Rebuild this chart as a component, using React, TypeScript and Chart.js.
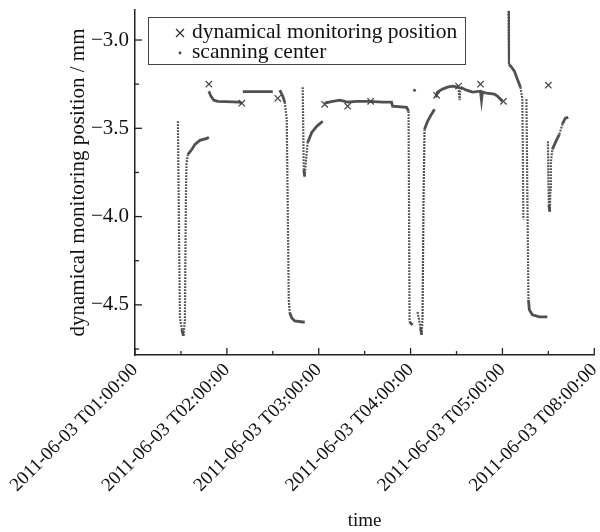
import React, { useEffect, useRef } from "react";
import Chart from "chart.js/auto";

// ---- axis ticks ----
const xTickHours = [1, 2, 3, 4, 5, 6];
const xTickLabels = [
  "2011-06-03 T01:00:00",
  "2011-06-03 T02:00:00",
  "2011-06-03 T03:00:00",
  "2011-06-03 T04:00:00",
  "2011-06-03 T05:00:00",
  "2011-06-03 T08:00:00",
];
const xMinorHours = [1.5, 2.5, 3.5, 4.5, 5.5];
const yTickValues = [-3.0, -3.5, -4.0, -4.5];
const yTickLabels = ["\u22123.0", "\u22123.5", "\u22124.0", "\u22124.5"];
const yMinorValues = [-3.25, -3.75, -4.25, -4.75];

// ---- scanning center, segments of [hour, mm] ----
const scanA = [
  [1.467, -3.46], [1.489, -4.574], [1.511, -4.642], [1.527, -4.676], [1.543, -4.585],
  [1.554, -3.903], [1.56, -3.705], [1.576, -3.648], [1.62, -3.619], [1.652, -3.591],
  [1.707, -3.568], [1.783, -3.557], [1.804, -3.551],
];
const scanB = [
  [1.804, -3.29], [1.826, -3.318], [1.859, -3.341], [1.902, -3.347], [2.141, -3.352], [2.163, -3.358],
];
const scanC = [[2.174, -3.292], [2.337, -3.292], [2.5, -3.292]];
const scanD = [
  [2.576, -3.284], [2.609, -3.318], [2.63, -3.352], [2.652, -3.449], [2.674, -4.472],
  [2.685, -4.545], [2.707, -4.574], [2.739, -4.591], [2.826, -4.597], [2.848, -4.597],
];
const scanE = [
  [2.826, -3.267], [2.837, -3.733], [2.848, -3.773], [2.859, -3.693], [2.88, -3.58],
  [2.924, -3.523], [2.978, -3.489], [3.043, -3.46],
];
const scanF = [
  [3.065, -3.358], [3.152, -3.347], [3.228, -3.341], [3.315, -3.352], [3.413, -3.347],
  [3.554, -3.347], [3.696, -3.352], [3.793, -3.352], [3.804, -3.375], [3.957, -3.381],
  [3.978, -3.403], [3.989, -4.597], [4.022, -4.614],
];
const scanG1 = [
  [4.076, -4.54], [4.109, -4.631], [4.12, -4.67], [4.13, -4.574], [4.141, -3.903],
  [4.152, -3.506], [4.185, -3.46], [4.228, -3.42], [4.261, -3.392],
];
const scanG = [
  [4.272, -3.324], [4.293, -3.295], [4.348, -3.278], [4.402, -3.267], [4.457, -3.261],
  [4.522, -3.267], [4.533, -3.341], [4.543, -3.267], [4.609, -3.284], [4.674, -3.295],
  [4.761, -3.29], [4.772, -3.341], [4.783, -3.295], [4.826, -3.301], [4.913, -3.307],
  [4.946, -3.318], [5.0, -3.347],
];
const scanH1 = [
  [5.065, -2.835], [5.071, -3.136], [5.098, -3.153], [5.13, -3.176], [5.163, -3.222],
  [5.196, -3.267], [5.217, -3.335], [5.228, -4.017],
];
const scanH2 = [
  [5.261, -3.335], [5.283, -4.472], [5.293, -4.528], [5.326, -4.557], [5.402, -4.568], [5.489, -4.568],
];
const scanI = [
  [5.495, -3.574], [5.505, -3.932], [5.516, -3.972], [5.522, -3.847], [5.527, -3.693],
  [5.543, -3.619], [5.587, -3.568], [5.62, -3.534], [5.652, -3.477], [5.685, -3.443], [5.717, -3.438],
];
const scanStray = [[4.043, -3.284]];

// ---- dynamical monitoring position ----
const monitorHours = [1.804, 2.163, 2.554, 3.065, 3.315, 3.565, 4.283, 4.522, 4.761, 5.011, 5.5];
const monitorValues = [-3.25, -3.358, -3.33, -3.364, -3.375, -3.347, -3.313, -3.261, -3.25, -3.347, -3.256];

const scanSegments = [scanA, scanB, scanC, scanD, scanE, scanF, scanG1, scanG, scanH1, scanH2, scanI];

const SERIF = '"Liberation Serif", "Times New Roman", serif';
const DATA_COLOR = "#505050";

const inwardTicks = {
  id: "inwardTicks",
  afterDatasetsDraw(chart: any) {
    const { ctx, chartArea, scales } = chart;
    const xs = scales.x;
    const ys = scales.y;
    ctx.save();
    ctx.strokeStyle = "#222";
    ctx.lineWidth = 1.3;
    const line = (x1: number, y1: number, x2: number, y2: number) => {
      ctx.beginPath();
      ctx.moveTo(x1, y1);
      ctx.lineTo(x2, y2);
      ctx.stroke();
    };
    xTickHours.forEach((h) => {
      const p = xs.getPixelForValue(h);
      line(p, chartArea.bottom, p, chartArea.bottom - 7);
    });
    xMinorHours.forEach((h) => {
      const p = xs.getPixelForValue(h);
      line(p, chartArea.bottom, p, chartArea.bottom - 4);
    });
    yTickValues.forEach((v) => {
      const p = ys.getPixelForValue(v);
      line(chartArea.left, p, chartArea.left + 7, p);
    });
    yMinorValues.forEach((v) => {
      const p = ys.getPixelForValue(v);
      line(chartArea.left, p, chartArea.left + 4, p);
    });
    ctx.restore();
  },
};

const boxLegend = {
  id: "boxLegend",
  afterDraw(chart: any) {
    const { ctx } = chart;
    ctx.save();
    ctx.strokeStyle = "#444";
    ctx.lineWidth = 1;
    ctx.strokeRect(148.5, 17.5, 317, 47);
    ctx.strokeStyle = "#333";
    ctx.lineWidth = 1.2;
    const cx = 180, cy = 33, r = 4;
    ctx.beginPath();
    ctx.moveTo(cx - r, cy - r); ctx.lineTo(cx + r, cy + r);
    ctx.moveTo(cx + r, cy - r); ctx.lineTo(cx - r, cy + r);
    ctx.stroke();
    ctx.fillStyle = "#444";
    ctx.beginPath();
    ctx.arc(180, 53, 1.4, 0, Math.PI * 2);
    ctx.fill();
    ctx.fillStyle = "#111";
    ctx.font = `21.5px ${SERIF}`;
    ctx.textBaseline = "middle";
    ctx.textAlign = "left";
    ctx.fillText("dynamical monitoring position", 192, 32);
    ctx.fillText("scanning center", 192, 52);
    ctx.restore();
  },
};

export default function App() {
  const ref = useRef<HTMLCanvasElement | null>(null);
  useEffect(() => {
    if (!ref.current) return;
    const steep = (c: any) => {
      const dx = Math.abs(c.p1.x - c.p0.x);
      const dy = Math.abs(c.p1.y - c.p0.y);
      return dy > 10 && dy > 3 * dx;
    };
    const lineSets = scanSegments.map((seg) => ({
      label: "scanning center",
      data: seg.map(([x, y]) => ({ x, y })),
      showLine: true,
      borderColor: DATA_COLOR,
      backgroundColor: DATA_COLOR,
      borderWidth: 2.8,
      pointRadius: 0,
      tension: 0,
      segment: {
        borderDash: (c: any) => (steep(c) ? [1.8, 1.2] : undefined),
        borderWidth: (c: any) => (steep(c) ? 2.2 : 2.8),
      },
    }));
    const zeroPad = (s: any) => {
      s.paddingLeft = 0;
      s.paddingRight = 0;
      s.paddingTop = 0;
      s.paddingBottom = 0;
    };
    const chart = new Chart(ref.current, {
      type: "scatter",
      data: {
        datasets: [
          {
            label: "dynamical monitoring position",
            data: monitorHours.map((x, i) => ({ x, y: monitorValues[i] })),
            pointStyle: "crossRot",
            pointRadius: 4.5,
            borderWidth: 1.2,
            borderColor: "#444",
            backgroundColor: "#444",
            showLine: false,
          },
          ...lineSets,
          {
            label: "scanning center",
            data: scanStray.map(([x, y]) => ({ x, y })),
            pointRadius: 1.5,
            borderWidth: 0,
            backgroundColor: DATA_COLOR,
            showLine: false,
          },
        ],
      },
      options: {
        animation: false,
        responsive: true,
        maintainAspectRatio: false,
        devicePixelRatio: 1,
        layout: { padding: { top: 10, right: 5, left: 0, bottom: 0 } },
        plugins: { legend: { display: false }, tooltip: { enabled: false } },
        scales: {
          x: {
            type: "linear",
            min: 1,
            max: 6,
            grid: { display: false, drawTicks: false },
            border: { display: true, color: "#222", width: 1.5 },
            afterBuildTicks: (s: any) => {
              s.ticks = xTickHours.map((v) => ({ value: v }));
            },
            afterFit: (s: any) => {
              s.height = 177;
              zeroPad(s);
            },
            ticks: {
              autoSkip: false,
              minRotation: 45,
              maxRotation: 45,
              padding: 4,
              color: "#111",
              font: { family: SERIF, size: 19 },
              callback: (_v: any, i: number) => xTickLabels[i],
            },
            title: {
              display: true,
              text: "time",
              color: "#111",
              font: { family: SERIF, size: 19 },
              padding: { top: 0, bottom: 0 },
            },
          },
          y: {
            type: "linear",
            min: -4.784,
            max: -2.83,
            grid: { display: false, drawTicks: false },
            border: { display: true, color: "#222", width: 1.5 },
            afterBuildTicks: (s: any) => {
              s.ticks = yTickValues.map((v) => ({ value: v }));
            },
            afterFit: (s: any) => {
              s.width = 135;
              zeroPad(s);
            },
            ticks: {
              autoSkip: false,
              padding: 6,
              color: "#111",
              font: { family: SERIF, size: 21 },
              callback: (_v: any, i: number) => yTickLabels[i],
            },
            title: {
              display: true,
              text: "dynamical monitoring position / mm",
              color: "#111",
              font: { family: SERIF, size: 21 },
              padding: { top: 66, bottom: 0 },
            },
          },
        },
      },
      plugins: [inwardTicks, boxLegend],
    });
    return () => chart.destroy();
  }, []);
  return (
    <div style={{ position: "absolute", left: 0, top: 0, width: 600, height: 532 }}>
      <canvas ref={ref} />
    </div>
  );
}
